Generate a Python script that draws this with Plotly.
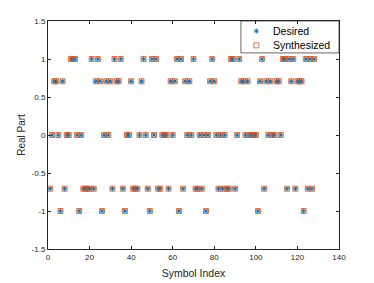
import plotly.graph_objects as go

symbol_index = list(range(1, 129))
desired = [
    -0.7071, 0, 0.7071, 0.7071, 0, -1, 0.7071, -0.7071, 0, 0,
    1, 1, 1, 0, -1, 0, -0.7071, -0.7071, -0.7071, -0.7071,
    1, -0.7071, 0.7071, 1, 0.7071, -1, 0, 0.7071, 0, 0.7071,
    -0.7071, 1, 0.7071, 0.7071, 1, -0.7071, -1, 0, 0, 0.7071,
    -0.7071, -0.7071, -0.7071, 0, 0.7071, 1, 0, -0.7071, -1, 1,
    0, 1, -0.7071, -0.7071, 0, 0, 0, -0.7071, 0.7071, 0,
    0.7071, 1, -1, 1, -0.7071, 0.7071, 0, 0.7071, 0, 1,
    -0.7071, -0.7071, 0, -0.7071, 0, -1, 0, 0.7071, 1, 0.7071,
    0, -0.7071, 0, -0.7071, 0, -0.7071, -0.7071, 1, 1, -0.7071,
    0, 1, 0.7071, 0.7071, 0, 0.7071, 0, 0, 0, 0,
    -1, 0.7071, 1, -0.7071, 0.7071, 0, 0.7071, 0, 0, 0.7071,
    0.7071, 0, 1, 1, -0.7071, 1, 0.7071, 1, -0.7071, 0.7071,
    0.7071, 0.7071, -1, 1, -0.7071, 1, -0.7071, 1,
]
synthesized = list(desired)

series_names = ["Desired", "Synthesized"]
y_tick_vals = [-1.5, -1, -0.5, 0, 0.5, 1, 1.5]
y_tick_text = ["-1.5", "-1", "-0.5", "0", "0.5", "1", "1.5"]
x_tick_vals = [0, 20, 40, 60, 80, 100, 120, 140]

blue = "#0072BD"
orange = "#D95319"
axis_col = "#262626"
font_fam = "Liberation Sans, Arial"

desired_marker = dict(symbol="asterisk-open", size=4, color=blue,
                      line=dict(color=blue, width=1))
synth_marker = dict(symbol="square-open", size=5, color=orange,
                    line=dict(color=orange, width=0.8))

fig = go.Figure()
fig.add_trace(go.Scatter(
    x=symbol_index, y=desired, mode="markers", name=series_names[0],
    marker=desired_marker, showlegend=False,
))
fig.add_trace(go.Scatter(
    x=symbol_index, y=synthesized, mode="markers", name=series_names[1],
    marker=synth_marker, showlegend=False,
))

# Legend (MATLAB-style compact box) on an overlay unit axis
leg_x0, leg_y0 = 0.663, 0.86
key_x, text_x = 0.716, 0.765
row_y = [0.956, 0.893]
fig.add_shape(type="rect", xref="paper", yref="paper",
              x0=leg_x0, x1=1, y0=leg_y0, y1=1, layer="below",
              fillcolor="white", line=dict(color=axis_col, width=0.7))
fig.add_trace(go.Scatter(x=[key_x], y=[row_y[0]], xaxis="x2", yaxis="y2",
                         mode="markers", marker=desired_marker,
                         showlegend=False, hoverinfo="skip"))
fig.add_trace(go.Scatter(x=[key_x], y=[row_y[1]], xaxis="x2", yaxis="y2",
                         mode="markers", marker=synth_marker,
                         showlegend=False, hoverinfo="skip"))
for name, yy in zip(series_names, row_y):
    fig.add_annotation(text=name, xref="paper", yref="paper", x=text_x, y=yy,
                       xanchor="left", yanchor="middle", showarrow=False,
                       font=dict(family=font_fam, size=10.5, color="black"))

axis_common = dict(
    showline=True, linecolor=axis_col, linewidth=1, mirror="allticks",
    ticks="inside", ticklen=3, tickcolor=axis_col, showgrid=False,
    zeroline=False, tickfont=dict(family=font_fam, size=8, color=axis_col),
    automargin=False,
)

fig.update_layout(
    width=366, height=275,
    margin=dict(l=40, r=35, t=13, b=34),
    paper_bgcolor="white", plot_bgcolor="white",
    font=dict(family=font_fam, color=axis_col),
    showlegend=False,
    xaxis=dict(range=[0, 140], tickvals=x_tick_vals,
               title=dict(text="Symbol Index", font=dict(size=10.5), standoff=9),
               **axis_common),
    yaxis=dict(range=[-1.5, 1.5], tickvals=y_tick_vals, ticktext=y_tick_text,
               title=dict(text="Real Part", font=dict(size=10), standoff=4),
               **axis_common),
    xaxis2=dict(overlaying="x", range=[0, 1], visible=False, fixedrange=True),
    yaxis2=dict(overlaying="y", range=[0, 1], visible=False, fixedrange=True),
)

fig.write_html("out.html")
